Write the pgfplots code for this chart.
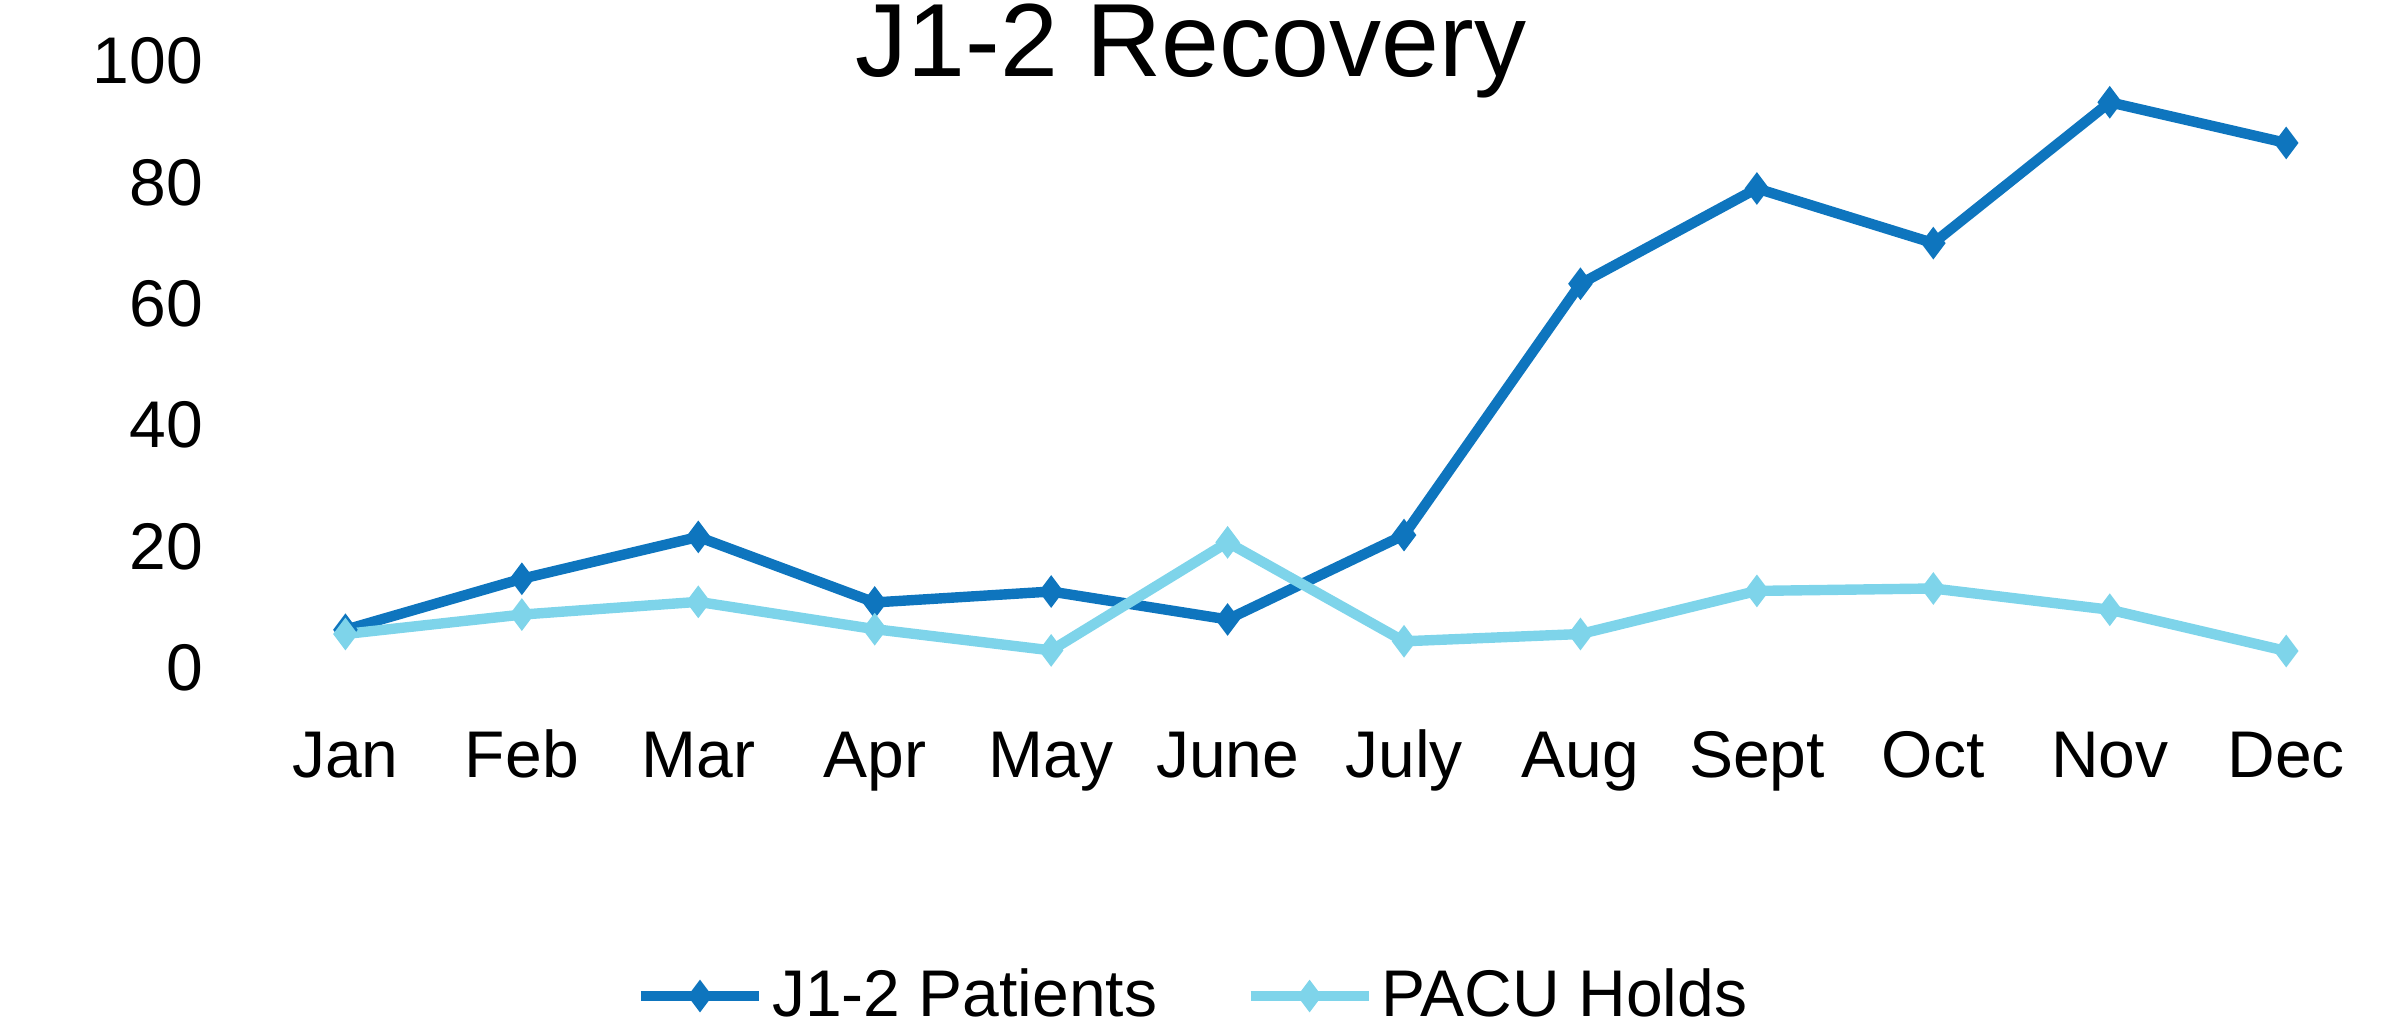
\documentclass[border=0pt]{standalone}
\usepackage{pgfplots}
\pgfplotsset{compat=1.18}
\usepackage{fontspec}
\setmainfont{Liberation Sans}
\definecolor{jone}{HTML}{0E75BE}
\definecolor{pacu}{HTML}{7ED4EA}
\begin{document}
\begin{tikzpicture}
\begin{axis}[
  at={(64.3pt,90.5pt)}, anchor=south west,
  scale only axis, width=529.3pt, height=151.75pt,
  xmin=-0.5, xmax=11.5, ymin=0, ymax=100,
  axis line style={draw=none}, tick style={draw=none},
  xtick={0,...,11},
  xticklabels={Jan,Feb,Mar,Apr,May,June,July,Aug,Sept,Oct,Nov,Dec},
  ytick={0,20,40,60,80,100},
  /pgf/number format/assume math mode=true,
  ticklabel style={font=\fontsize{16.5}{19}\selectfont},
  yticklabel style={anchor=east, xshift=-10pt},
  xticklabel style={anchor=base, yshift=-27.25pt},
  clip=false,
  legend columns=2,
  legend style={draw=none, fill=none, at={(0.4432,-0.5404)}, anchor=center,
    font=\fontsize{16.5}{19}\selectfont,
    /tikz/every even column/.append style={column sep=20pt}},
  legend image code/.code={
    \draw[#1, mark repeat=2, mark phase=2] plot coordinates {(0pt,0pt) (14.75pt,0pt) (29.5pt,0pt)};
  },
]
\addplot[color=jone, line width=2.6pt, mark=diamond*, mark size=3.6pt, mark options={solid, line width=0.6pt}]
coordinates {(0,6.3) (1,14.7) (2,21.6) (3,10.8) (4,12.6) (5,8) (6,21.9) (7,63.3) (8,79) (9,70) (10,93.2) (11,86.5)};
\addlegendentry{J1-2 Patients}
\addplot[color=pacu, line width=2.6pt, mark=diamond*, mark size=3.6pt, mark options={solid, line width=0.6pt}]
coordinates {(0,5.6) (1,8.8) (2,10.9) (3,6.4) (4,2.9) (5,20.7) (6,4.4) (7,5.6) (8,12.7) (9,13.1) (10,9.6) (11,2.8)};
\addlegendentry{PACU Holds}
\end{axis}
\node[anchor=base, font=\fontsize{26}{30}\selectfont] at (297.75pt,238.4pt) {J1-2 Recovery};
\pgfresetboundingbox
\path[use as bounding box] (0,0) rectangle (599.5pt,257.5pt);
\end{tikzpicture}
\end{document}
